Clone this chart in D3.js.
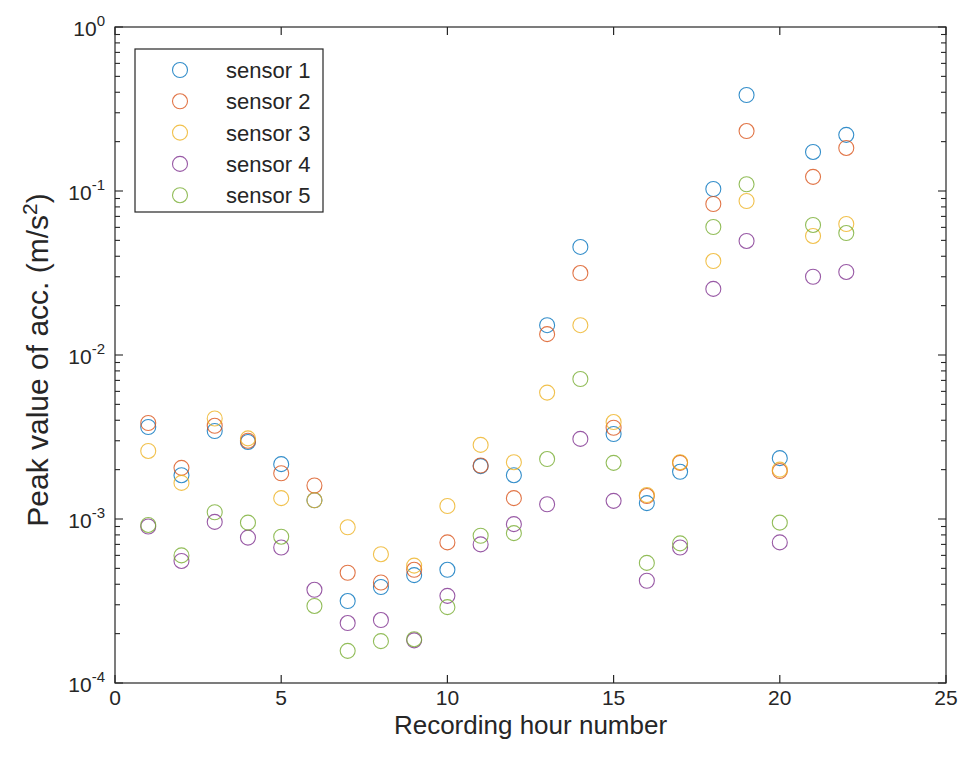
<!DOCTYPE html>
<html>
<head>
<meta charset="utf-8">
<script src="https://cdn.jsdelivr.net/npm/d3@7"></script>
<style>
  html, body { margin: 0; padding: 0; background: #fff; }
  svg { display: block; font-family: "Liberation Sans", Arial, sans-serif; }
</style>
</head>
<body>
<svg id="chart" width="960" height="763"></svg>
<script>
// Recording hours 1..22
const hours = d3.range(1, 23);

// Peak acceleration per sensor (m/s^2), one value per hour
const sensor1 = [0.00364, 0.00185, 0.00344, 0.00295, 0.00216, 0.00130, 0.000316, 0.000385, 0.000455, 0.000490, 0.00210,
                 0.00185, 0.0152, 0.0456, 0.00330, 0.00125, 0.00194, 0.1028, 0.385, 0.00235, 0.173, 0.220];
const sensor2 = [0.00385, 0.00205, 0.00370, 0.00300, 0.00190, 0.00160, 0.000470, 0.000410, 0.000490, 0.000720, 0.00212,
                 0.00134, 0.0134, 0.0316, 0.00360, 0.00138, 0.00220, 0.0833, 0.232, 0.00196, 0.122, 0.183];
const sensor3 = [0.00260, 0.00166, 0.00410, 0.00310, 0.00134, 0.00130, 0.000890, 0.000610, 0.000520, 0.00120, 0.00283,
                 0.00222, 0.00590, 0.0152, 0.00390, 0.00140, 0.00222, 0.0374, 0.0869, 0.00200, 0.0532, 0.0629];
const sensor4 = [0.000900, 0.000555, 0.000960, 0.000770, 0.000670, 0.000370, 0.000232, 0.000242, 0.000182, 0.000340, 0.000700,
                 0.000930, 0.00123, 0.00308, 0.00129, 0.000420, 0.000670, 0.0253, 0.0496, 0.000720, 0.0300, 0.0321];
const sensor5 = [0.000920, 0.000600, 0.00110, 0.000950, 0.000780, 0.000295, 0.000157, 0.000180, 0.000185, 0.000290, 0.000790,
                 0.000820, 0.00232, 0.00714, 0.00220, 0.000540, 0.000710, 0.0603, 0.110, 0.000950, 0.0621, 0.0554];

const seriesNames = ["sensor 1", "sensor 2", "sensor 3", "sensor 4", "sensor 5"];
const seriesValues = [sensor1, sensor2, sensor3, sensor4, sensor5];
const seriesColors = ["#0072BD", "#D95319", "#EDB120", "#7E2F8E", "#77AC30"];

const xTicks = [0, 5, 10, 15, 20, 25];
const yTickExponents = [-4, -3, -2, -1, 0];

const xLabel = "Recording hour number";
const yLabel = "Peak value of acc. (m/s";

// Layout
const plot = { left: 115, right: 946, top: 27, bottom: 683 };
const axisColor = "#262626";

const svg = d3.select("#chart");

const x = d3.scaleLinear().domain([0, 25]).range([plot.left, plot.right]);
const y = d3.scaleLog().domain([1e-4, 1]).range([plot.bottom, plot.top]);

// Markers: open circles for each sensor
const g = svg.append("g");
seriesValues.forEach((vals, si) => {
  g.selectAll(null)
    .data(vals.map((v, i) => ({ h: hours[i], v })))
    .enter()
    .append("circle")
    .attr("cx", d => x(d.h))
    .attr("cy", d => y(d.v))
    .attr("r", 7.5)
    .attr("fill", "none")
    .attr("stroke", seriesColors[si])
    .attr("stroke-opacity", 0.8)
    .attr("stroke-width", 1.1);
});

// Axis box
svg.append("rect")
  .attr("x", plot.left).attr("y", plot.top)
  .attr("width", plot.right - plot.left).attr("height", plot.bottom - plot.top)
  .attr("fill", "none").attr("stroke", axisColor).attr("stroke-width", 1.2);

// X ticks (inward, bottom and top)
const xt = svg.append("g").attr("stroke", axisColor).attr("stroke-width", 1.2);
xTicks.forEach(t => {
  xt.append("line").attr("x1", x(t)).attr("x2", x(t)).attr("y1", plot.bottom).attr("y2", plot.bottom - 8);
  xt.append("line").attr("x1", x(t)).attr("x2", x(t)).attr("y1", plot.top).attr("y2", plot.top + 8);
});
svg.append("g").selectAll("text").data(xTicks).enter().append("text")
  .attr("x", d => x(d)).attr("y", plot.bottom + 22)
  .attr("text-anchor", "middle")
  .attr("font-size", 21).attr("fill", axisColor)
  .text(d => d);

// Y ticks: majors at decades, minors 2..9
const yt = svg.append("g").attr("stroke", axisColor).attr("stroke-width", 1.1);
yTickExponents.forEach(e => {
  const v = Math.pow(10, e);
  yt.append("line").attr("x1", plot.left).attr("x2", plot.left + 8).attr("y1", y(v)).attr("y2", y(v));
  yt.append("line").attr("x1", plot.right).attr("x2", plot.right - 8).attr("y1", y(v)).attr("y2", y(v));
  if (e < 0) {
    for (let m = 2; m <= 9; m++) {
      const mv = m * v;
      yt.append("line").attr("x1", plot.left).attr("x2", plot.left + 5).attr("y1", y(mv)).attr("y2", y(mv));
      yt.append("line").attr("x1", plot.right).attr("x2", plot.right - 5).attr("y1", y(mv)).attr("y2", y(mv));
    }
  }
});
const ylab = svg.append("g").selectAll("text").data(yTickExponents).enter().append("text")
  .attr("x", plot.left - 10).attr("y", d => y(Math.pow(10, d)) + 9)
  .attr("text-anchor", "end")
  .attr("font-size", 21).attr("fill", axisColor);
ylab.append("tspan").text("10");
ylab.append("tspan").attr("dy", -10).attr("font-size", 15).text(d => d);

// Axis labels
svg.append("text")
  .attr("x", (plot.left + plot.right) / 2).attr("y", 734)
  .attr("text-anchor", "middle").attr("font-size", 26).attr("fill", axisColor)
  .text(xLabel);

const yl = svg.append("text")
  .attr("transform", `translate(48, 360) rotate(-90)`)
  .attr("text-anchor", "middle").attr("font-size", 30).attr("fill", axisColor);
yl.append("tspan").text(yLabel);
yl.append("tspan").attr("dy", -11).attr("font-size", 21).text("2");
yl.append("tspan").attr("dy", 11).text(")");

// Legend
const leg = { x: 135, y: 49, w: 188, h: 163 };
svg.append("rect")
  .attr("x", leg.x).attr("y", leg.y).attr("width", leg.w).attr("height", leg.h)
  .attr("fill", "#fff").attr("stroke", axisColor).attr("stroke-width", 1.2);
const li = svg.append("g").selectAll("g").data(seriesNames).enter().append("g")
  .attr("transform", (d, i) => `translate(0, ${70 + i * 31.3})`);
li.append("circle").attr("cx", 180).attr("cy", 0).attr("r", 7.5)
  .attr("fill", "none").attr("stroke", (d, i) => seriesColors[i])
  .attr("stroke-opacity", 0.8).attr("stroke-width", 1.1);
li.append("text").attr("x", 226).attr("y", 8)
  .attr("font-size", 22).attr("fill", axisColor).text(d => d);
</script>
</body>
</html>
